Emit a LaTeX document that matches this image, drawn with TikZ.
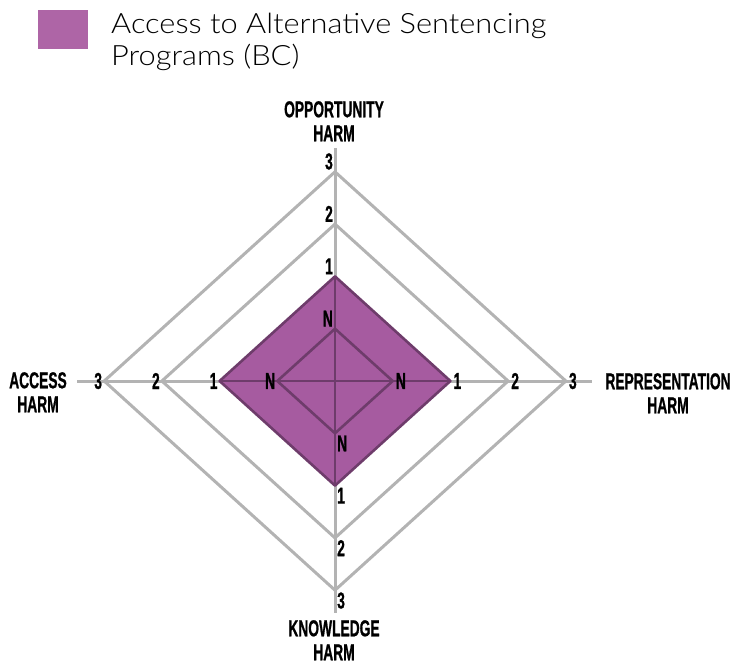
\documentclass[tikz,border=0pt]{standalone}
\usepackage{fontspec}
\setmainfont{Liberation Sans}
\newfontfamily\titlefont[FakeStretch=1.1]{Lato Light}
\newfontfamily\axisfont[FakeStretch=0.6,FakeBold=0.8]{Liberation Sans}
\usetikzlibrary{positioning}

\definecolor{keypurple}{HTML}{AE65A6}
\definecolor{fillpurple}{HTML}{A65BA0}
\definecolor{edgepurple}{HTML}{6E3C6B}
\definecolor{gridgray}{HTML}{B3B3B3}

\begin{document}
\begin{tikzpicture}[x=1pt,y=-1pt,
    gridline/.style={draw=gridgray,line width=3pt},
    dataline/.style={draw=edgepurple,line width=2.6pt,line join=round},
    tick/.style={font=\axisfont\bfseries\fontsize{23}{24}\selectfont,inner sep=2pt},
    axislabel/.style={font=\axisfont\bfseries\fontsize{23}{24}\selectfont,align=center,inner sep=0pt,anchor=north}]
\useasboundingbox (0,0) rectangle (746,664);

% legend
\node (key) at (63,29.5) [fill=keypurple,minimum width=50pt,minimum height=39pt,inner sep=0pt] {};
\node (title1) at (111,33) [anchor=base west,inner sep=0pt,font=\titlefont\fontsize{28}{32}\selectfont] {Access to Alternative Sentencing};
\node (title2) at (111,65) [anchor=base west,inner sep=0pt,font=\titlefont\fontsize{28}{32}\selectfont] {Programs (BC)};

% axis names
\node (opp) at (334,101) [axislabel] {OPPORTUNITY\\HARM};
\node (access) at (38,372) [axislabel] {ACCESS\\HARM};
\node (repr) at (668,373) [axislabel] {REPRESENTATION\\HARM};
\node (know) at (334,620) [axislabel] {KNOWLEDGE\\HARM};

% axis ends and ring corners
\coordinate (c) at (335,381);
\coordinate (tEnd) at (335,148);
\coordinate (bEnd) at (335,613);
\coordinate (lEnd) at (77,381);
\coordinate (rEnd) at (592,381);
\foreach \i in {1,...,4} {%
    \coordinate (t\i) at (335,{381-52.3*\i});
    \coordinate (b\i) at (335,{381+52.3*\i});
    \coordinate (l\i) at ({335-57.7*\i},381);
    \coordinate (r\i) at ({335+57.7*\i},381);
}

\draw[gridline] (lEnd) -- (rEnd);
\draw[gridline] (tEnd) -- (bEnd);
\foreach \i in {3,4}
    \draw[gridline] (t\i) -- (r\i) -- (b\i) -- (l\i) -- cycle;

% data
\draw[dataline,fill=fillpurple] (t2) -- (r2) -- (b2) -- (l2) -- cycle;
\draw[dataline] (l2) -- (r2) (t2) -- (b2);
\draw[dataline] (t1) -- (r1) -- (b1) -- (l1) -- cycle;

% ring values
\foreach \i/\lab in {1/N,2/1,3/2,4/3} {%
    \node (tv\i) at (t\i) [tick,anchor=south east] {\lab};
    \node (bv\i) at (b\i) [tick,anchor=north west] {\lab};
    \node (lv\i) at (l\i) [tick,anchor=east] {\lab};
    \node (rv\i) at (r\i) [tick,anchor=west,inner sep=3pt] {\lab};
}
\end{tikzpicture}
\end{document}
